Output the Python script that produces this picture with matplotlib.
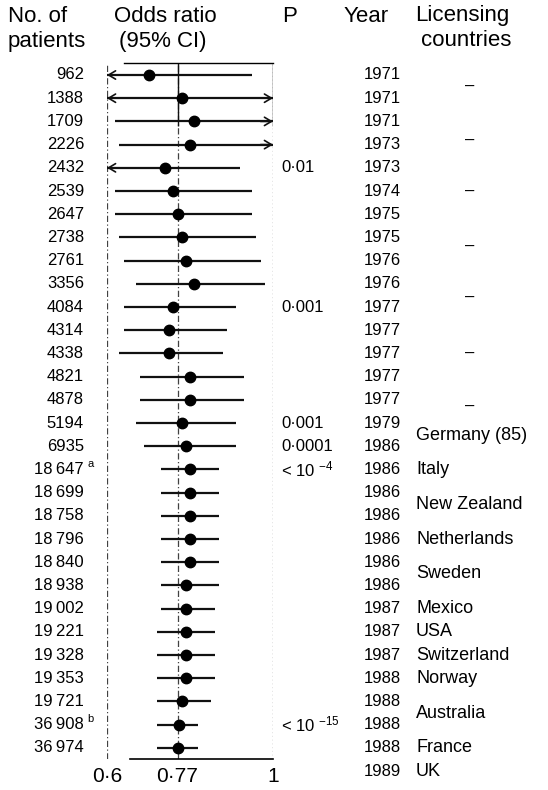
import numpy as np
import matplotlib
matplotlib.use("Agg")
import matplotlib.pyplot as plt
import matplotlib.transforms as mtransforms

# --- data --------------------------------------------------------------
patients = [962, 1388, 1709, 2226, 2432, 2539, 2647, 2738, 2761, 3356,
            4084, 4314, 4338, 4821, 4878, 5194, 6935, 18647, 18699, 18758,
            18796, 18840, 18938, 19002, 19221, 19328, 19353, 19721, 36908, 36974]
notes = {18647: "a", 36908: "b"}

odds = [0.70, 0.78, 0.81, 0.80, 0.74, 0.76, 0.77, 0.78, 0.79, 0.81,
        0.76, 0.75, 0.75, 0.80, 0.80, 0.78, 0.79, 0.80, 0.80, 0.80,
        0.80, 0.80, 0.79, 0.79, 0.79, 0.79, 0.79, 0.78, 0.773, 0.771]
ci_low = [0.50, 0.50, 0.62, 0.63, 0.50, 0.62, 0.62, 0.63, 0.64, 0.67,
          0.64, 0.64, 0.63, 0.68, 0.68, 0.67, 0.69, 0.73, 0.73, 0.73,
          0.73, 0.73, 0.73, 0.73, 0.72, 0.72, 0.72, 0.72, 0.72, 0.72]
ci_high = [0.95, 1.20, 1.15, 1.10, 0.92, 0.95, 0.95, 0.96, 0.97, 0.98,
           0.91, 0.89, 0.88, 0.93, 0.93, 0.91, 0.91, 0.87, 0.87, 0.87,
           0.87, 0.87, 0.87, 0.86, 0.86, 0.86, 0.86, 0.85, 0.82, 0.82]

years = [1971, 1971, 1971, 1973, 1973, 1974, 1975, 1975, 1976, 1976,
         1977, 1977, 1977, 1977, 1977, 1979, 1986, 1986, 1986, 1986,
         1986, 1986, 1986, 1987, 1987, 1987, 1988, 1988, 1988, 1988, 1989]

# P values: row number (1 based) -> text
p_rows = [5, 11, 16, 17, 18, 29]
p_text = ["0·01", "0·001", "0·001", "0·0001", r"< 10 $^{-4}$", r"< 10 $^{-15}$"]

countries = ["Germany (85)", "Italy", "New Zealand", "Netherlands", "Sweden",
             "Mexico", "USA", "Switzerland", "Norway", "Australia", "France", "UK"]
country_rows = [16.55, 18, 19.5, 21, 22.5, 24, 25, 26, 27, 28.5, 30, 31]
dash_rows = [1.5, 3.8, 6, 8.4, 10.6, 13, 15.3]

xticks = [0.6, 0.77, 1.0]
xtick_labels = ["0·6", "0·77", "1"]

# --- style --------------------------------------------------------------
plt.rcParams['font.family'] = ['Liberation Sans', 'DejaVu Sans']
plt.rcParams['mathtext.fontset'] = 'custom'
plt.rcParams['mathtext.rm'] = 'Liberation Sans'
plt.rcParams['mathtext.it'] = 'Liberation Sans:italic'
plt.rcParams['mathtext.bf'] = 'Liberation Sans:bold'

W, H = 548, 790
fig = plt.figure(figsize=(W / 100, H / 100), dpi=100)

# forest axes: 0.6 -> x=107 px, 1.0 -> x=273 px; rows from y=63 to y=759
ytop, ybot = 0.483, 30.48
ax = fig.add_axes([107 / W, 1 - 759 / H, 166 / W, (759 - 63) / H])
ax.set_xlim(0.6, 1.0)
ax.set_ylim(ybot, ytop)

ink = "#111111"
rows = np.arange(1, len(patients) + 1)

# reference lines
ax.axvline(0.6, color=ink, lw=0.9, ls=(0, (5, 2, 1, 2)), alpha=0.8)
ax.axvline(0.77, color=ink, lw=0.9, ls=(0, (5, 2, 1, 2)), alpha=0.8)
ax.axvline(1.0, color=ink, lw=0.9, ls=(0, (1, 2)), alpha=0.8)
ax.vlines([0.77, 1.0], ytop, 3.2, color=ink, lw=1.0)

#--- CIs + points --------------------------------------------------------
for r, o, lo, hi in zip(rows, odds, ci_low, ci_high):
    lo_d = max(lo, 0.6)
    hi_d = min(hi, 1.0)
    ax.plot([lo_d, hi_d], [r, r], color=ink, lw=1.6, solid_capstyle='butt')
    if lo < 0.6:
        ax.annotate('', xy=(0.6, r), xytext=(0.63, r),
                    arrowprops=dict(arrowstyle='->,head_length=0.5,head_width=0.3',
                                    color=ink, lw=1.2, shrinkA=0, shrinkB=0))
    if hi > 1.0:
        ax.annotate('', xy=(1.0, r), xytext=(0.97, r),
                    arrowprops=dict(arrowstyle='->,head_length=0.5,head_width=0.3',
                                    color=ink, lw=1.2, shrinkA=0, shrinkB=0))
ax.plot(odds, rows, 'o', color='black', ms=7.5, zorder=3)

# axes frame
for side in ['left', 'right']:
    ax.spines[side].set_visible(False)
ax.spines['top'].set_bounds(0.64, 1.0)
ax.spines['bottom'].set_bounds(0.655, 1.0)
ax.spines['top'].set_linewidth(1.0)
ax.spines['bottom'].set_linewidth(1.2)
ax.set_yticks([])
ax.set_xticks(xticks)
ax.set_xticklabels(xtick_labels, fontsize=15)
ax.tick_params(axis='x', length=0, pad=6)

#--- text columns --------------------------------------------------------
tr = mtransforms.blended_transform_factory(fig.transFigure, ax.transData)
fs = 12

def fmt(n):
    s = f"{n:,}"
    return s.replace(",", "\u2009") if n >= 10000 else s.replace(",", "")

for r, n in zip(rows, patients):
    ax.text(84 / W, r, fmt(n), transform=tr, ha='right', va='center',
            fontsize=fs, clip_on=False)
    if n in notes:
        ax.text(87 / W, r - 0.25, notes[n], transform=tr, ha='left',
                va='center', fontsize=8, clip_on=False)

for r, p in zip(p_rows, p_text):
    ax.text(281 / W, r, p, transform=tr, ha='left', va='center',
            fontsize=fs, clip_on=False)

for i, yr in enumerate(years):
    ax.text(401 / W, i + 1, str(yr), transform=tr, ha='right', va='center',
            fontsize=fs, clip_on=False)

for c, r in zip(countries, country_rows):
    ax.text(416 / W, r, c, transform=tr, ha='left', va='center',
            fontsize=13, clip_on=False)

for r in dash_rows:
    ax.text(470 / W, r, "–", transform=tr, ha='center', va='center',
            fontsize=fs, clip_on=False)

# headers
hfs = 16
fig.text(8 / W, 1 - 16 / H, "No. of", ha='left', va='center', fontsize=hfs)
fig.text(8 / W, 1 - 41 / H, "patients", ha='left', va='center', fontsize=hfs)
fig.text(165 / W, 1 - 16 / H, "Odds ratio", ha='center', va='center', fontsize=hfs)
fig.text(163 / W, 1 - 41 / H, "(95% CI)", ha='center', va='center', fontsize=hfs)
fig.text(290 / W, 1 - 16 / H, "P", ha='center', va='center', fontsize=hfs)
fig.text(366 / W, 1 - 16 / H, "Year", ha='center', va='center', fontsize=hfs)
fig.text(462 / W, 1 - 16 / H, "Licensing", ha='center', va='center', fontsize=hfs)
fig.text(466 / W, 1 - 41 / H, "countries", ha='center', va='center', fontsize=hfs)

plt.savefig('out.png', dpi=100)
